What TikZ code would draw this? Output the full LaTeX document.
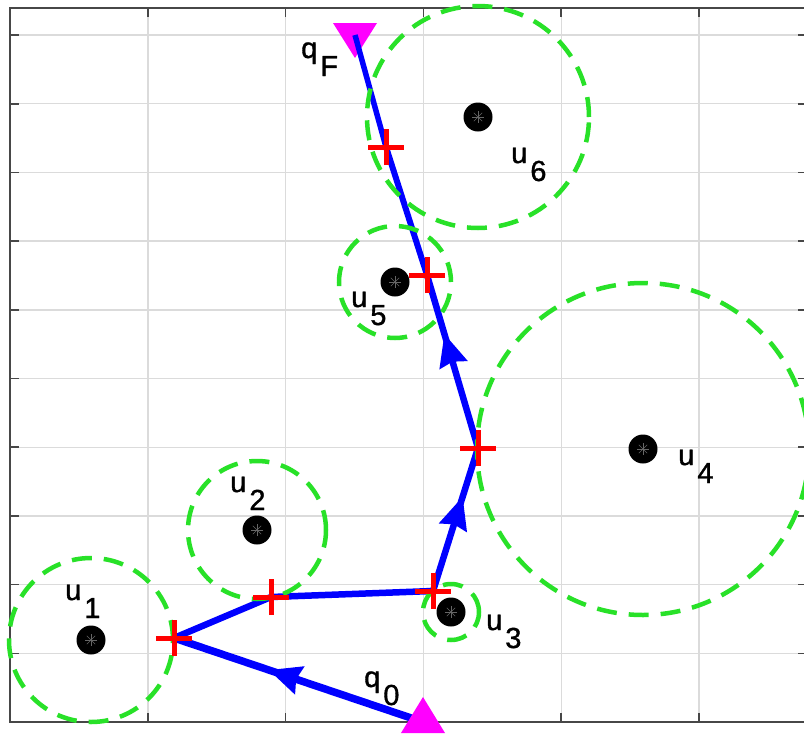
\documentclass[tikz,border=0pt]{standalone}
\usepackage{fontspec}
\setmainfont{Liberation Sans}
\newfontfamily\labfont{Liberation Sans}[FakeBold=1.2]
\usetikzlibrary{arrows.meta,decorations.markings}
\definecolor{circgreen}{RGB}{40,225,40}
\definecolor{pathblue}{RGB}{0,0,255}
\definecolor{plusred}{RGB}{255,0,0}
\definecolor{mag}{RGB}{255,0,255}
\newcommand\sublab[2]{#1\kern3pt\raisebox{-18pt}{#2}}
\begin{document}
\begin{tikzpicture}[x=1pt,y=-1pt,
  gridline/.style={draw=black!14,line width=1.4pt},
  axisline/.style={draw=black!72,line width=2pt},
  tickline/.style={draw=black!72,line width=1.6pt},
  obstcircle/.style={draw=circgreen,line width=4.5pt,dash pattern=on 20pt off 12pt},
  dot/.style={circle,fill=black,minimum size=29pt,inner sep=0pt},
  pathseg/.style={draw=pathblue,line width=6.5pt},
  arrowmark/.style={postaction={decorate},decoration={markings,
     mark=at position #1 with {\arrow[pathblue]{Stealth[length=32pt,width=28pt,inset=3pt]}}}},
  plusline/.style={draw=plusred,line width=5pt},
  lab/.style={inner sep=0pt,anchor=base west,font=\labfont\fontsize{29}{31}\selectfont}]
\useasboundingbox (0,0) rectangle (804,734);
\fill[white] (0,0) rectangle (804,734);
% grid
\foreach \k in {1,...,5}{\pgfmathsetmacro\gx{10+137.8*\k}
  \draw[gridline] (\gx,8) -- (\gx,722);}
\foreach \k in {1,...,10}{\pgfmathsetmacro\gy{722-68.7*\k}
  \draw[gridline] (10,\gy) -- (804,\gy);}
% ticks
\foreach \k in {1,...,5}{\pgfmathsetmacro\gx{10+137.8*\k}
  \draw[tickline] (\gx,8) -- (\gx,17);
  \draw[tickline] (\gx,722) -- (\gx,713);}
\foreach \k in {1,...,10}{\pgfmathsetmacro\gy{722-68.7*\k}
  \draw[tickline] (10,\gy) -- (19,\gy);
  \draw[tickline] (798,\gy) -- (804,\gy);}
% axes
\draw[axisline] (804,8) -- (10,8) -- (10,722) -- (804,722);
% path points
\coordinate (q0) at (423,722);
\coordinate (p1) at (174,638);
\coordinate (p2) at (271,597);
\coordinate (p3) at (433,591);
\coordinate (p4) at (478,448);
\coordinate (p5) at (427,275);
\coordinate (p6) at (386,147);
\coordinate (qF) at (355,35);
% goal marker
\fill[mag] (333,23) -- (377,23) -- (355,58) -- cycle;
% path
\draw[pathseg,line width=7.5pt,arrowmark=0.62] (q0) -- (p1);
\draw[pathseg] (p1) -- (p2);
\draw[pathseg] (p2) -- (p3);
\draw[pathseg,arrowmark=0.66] (p3) -- (p4);
\draw[pathseg,arrowmark=0.66] (p4) -- (p5);
\draw[pathseg,line width=6pt] (p5) -- (p6);
\draw[pathseg,line width=5.5pt] (p6) -- (qF);
% obstacles
\foreach \n/\x/\y in {1/91/640, 2/257/530, 3/451/612, 4/643/449, 5/395/282, 6/478/117}{
  \coordinate (c\n) at (\x,\y);}
\foreach \n/\r in {1/82, 2/69, 3/28, 4/166, 5/56, 6/111}{
  \draw[obstcircle] (c\n) circle[radius=\r pt];}
\foreach \n in {1,...,6}{
  \node[dot] (u\n) at (c\n) {};
  \foreach \a in {0,45,90,135}{
    \draw[black!60,line width=0.6pt] (u\n.center) ++(\a:6pt) -- ++(\a+180:12pt);}}
% waypoints
\foreach \p in {p1,p2,p3,p4,p5,p6}{
  \draw[plusline] (\p) ++(-18pt,0) -- ++(36pt,0);
  \draw[plusline] (\p) ++(0,-18pt) -- ++(0,36pt);}
% start marker
\fill[mag] (423,697) -- (445,733) -- (401,733) -- cycle;
% labels
\node[lab] (l1) at (65,600) {\sublab{u}{1}};
\node[lab] (l2) at (230,492) {\sublab{u}{2}};
\node[lab] (l3) at (486,630) {\sublab{u}{3}};
\node[lab] (l4) at (678,465) {\sublab{u}{4}};
\node[lab] (l5) at (351,307) {\sublab{u}{5}};
\node[lab] (l6) at (511,163) {\sublab{u}{6}};
\node[lab] (lF) at (301,58) {\sublab{q}{F}};
\node[lab] (l0) at (364,687) {\sublab{q}{0}};
\end{tikzpicture}
\end{document}
